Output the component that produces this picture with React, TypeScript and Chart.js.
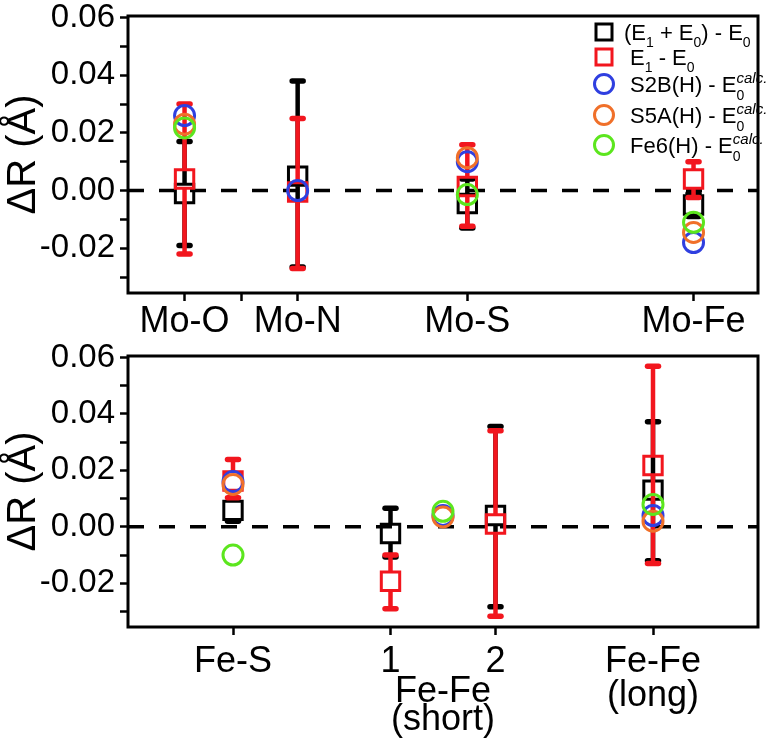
import React, { useEffect, useRef } from 'react';
import { Chart, registerables } from 'chart.js';

Chart.register(...registerables);

const FONT = "'Liberation Sans', Arial, Helvetica, sans-serif";

// ---------- shared y axis ----------
const Y_MIN = -0.0355;
const Y_MAX = 0.0605;
const yTickValues = [-0.03, -0.02, -0.01, 0, 0.01, 0.02, 0.03, 0.04, 0.05, 0.06];
const yTickLabels = ['', '-0.02', '', '0.00', '', '0.02', '', '0.04', '', '0.06'];

// ---------- top panel (Mo) ----------
const topX_MIN = 0.5;
const topX_MAX = 6.07;
const topCategories = ['Mo-O', 'Mo-N', 'Mo-S', 'Mo-Fe'];
const topPositions = [1, 2, 3.5, 5.5];
const topMinorTicks = [1.5];
const topBlack = [-0.001, 0.005, -0.0045, -0.005];
const topBlackLow = [-0.019, -0.0265, -0.013, -0.009];
const topBlackHigh = [0.017, 0.038, 0.004, -0.001];
const topRed = [0.004, -0.0005, 0.0014, 0.004];
const topRedLow = [-0.022, -0.027, -0.0124, -0.0024];
const topRedHigh = [0.03, 0.025, 0.0159, 0.01];
const topBlue = [0.026, 0.0, 0.01, -0.018];
const topOrange = [0.023, null, 0.0114, -0.0145];
const topGreen = [0.0217, null, -0.0014, -0.011];

// ---------- bottom panel (Fe) ----------
const botX_MIN = -2;
const botX_MAX = 10;
const botTickPositions = [0, 3, 5, 8];
const botTickLabels: (string | string[])[] = ['Fe-S', '1', '2', ['Fe-Fe', '(long)']];
const botGroupLabel = ['Fe-Fe', '(short)'];
const botGroupPosition = 4;
const botPositions = [0, 3, 4, 5, 8];
const botBlack = [0.0058, -0.0024, null, 0.004, 0.013];
const botBlackLow = [0.002, -0.0107, null, -0.0283, -0.012];
const botBlackHigh = [0.009, 0.0066, null, 0.0355, 0.0372];
const botRed = [0.0162, -0.0193, null, 0.001, 0.0217];
const botRedLow = [0.0103, -0.029, null, -0.0317, -0.013];
const botRedHigh = [0.0238, -0.01, null, 0.034, 0.0569];
const botBlue = [0.016, null, 0.004, null, 0.004];
const botOrange = [0.015, null, 0.0035, null, 0.002];
const botGreen = [-0.01, null, 0.0055, null, 0.0079];

// ---------- series styling ----------
const BLACK = '#000000';
const RED = '#f2161e';
const BLUE = '#2f3fe0';
const ORANGE = '#f0702a';
const GREEN = '#5ce61e';

type Part = { t: 'n' | 'sub' | 'ss'; s: string; sup?: string };
const legendEntries: { parts: Part[]; marker: 'rect' | 'circle'; color: string }[] = [
  { parts: [{ t: 'n', s: '(E' }, { t: 'sub', s: '1' }, { t: 'n', s: ' + E' }, { t: 'sub', s: '0' }, { t: 'n', s: ') - E' }, { t: 'sub', s: '0' }], marker: 'rect', color: BLACK },
  { parts: [{ t: 'n', s: ' E' }, { t: 'sub', s: '1' }, { t: 'n', s: ' - E' }, { t: 'sub', s: '0' }], marker: 'rect', color: RED },
  { parts: [{ t: 'n', s: ' S2B(H) - E' }, { t: 'ss', s: '0', sup: 'calc.' }], marker: 'circle', color: BLUE },
  { parts: [{ t: 'n', s: ' S5A(H) - E' }, { t: 'ss', s: '0', sup: 'calc.' }], marker: 'circle', color: ORANGE },
  { parts: [{ t: 'n', s: ' Fe6(H) - E' }, { t: 'ss', s: '0', sup: 'calc.' }], marker: 'circle', color: GREEN },
];
const legendRowCenters = [32, 57, 84, 115, 145];

function pts(xs: number[], ys: (number | null)[]) {
  return xs.map((x, i) => ({ x, y: ys[i] }));
}

function labelForY(v: number) {
  const i = yTickValues.findIndex((t) => Math.abs(t - v) < 1e-6);
  return i >= 0 ? yTickLabels[i] : '';
}

const errorBarPlugin = {
  id: 'errorBars',
  afterDatasetDraw(chart: any, args: any) {
    const ds: any = chart.data.datasets[args.index];
    if (!ds.errLow || !ds.errHigh) return;
    const { ctx, chartArea } = chart;
    const xs = chart.scales.x;
    const ys = chart.scales.y;
    const half = 10;
    ctx.save();
    ctx.beginPath();
    ctx.rect(chartArea.left, chartArea.top, chartArea.right - chartArea.left, chartArea.bottom - chartArea.top);
    ctx.clip();
    ctx.strokeStyle = ds.borderColor;
    ds.data.forEach((p: any, i: number) => {
      if (!p || p.y == null) return;
      const lo = ds.errLow[i];
      const hi = ds.errHigh[i];
      if (lo == null || hi == null) return;
      const px = xs.getPixelForValue(p.x);
      const py = ys.getPixelForValue(p.y);
      const pl = ys.getPixelForValue(lo);
      const ph = ys.getPixelForValue(hi);
      const segs: [number, number][] = [];
      if (ph < py - half) segs.push([py - half, ph]);
      if (pl > py + half) segs.push([py + half, pl]);
      segs.forEach(([a, b]) => {
        ctx.lineWidth = 4.5;
        ctx.lineCap = 'butt';
        ctx.beginPath();
        ctx.moveTo(px, a);
        ctx.lineTo(px, b);
        ctx.stroke();
        ctx.lineWidth = 5.5;
        ctx.lineCap = 'round';
        ctx.beginPath();
        ctx.moveTo(px - 5.5, b);
        ctx.lineTo(px + 5.5, b);
        ctx.stroke();
      });
    });
    ctx.restore();
  },
};

const framePlugin = {
  id: 'frame',
  afterDatasetsDraw(chart: any) {
    const { ctx, chartArea } = chart;
    ctx.save();
    ctx.strokeStyle = '#000';
    ctx.lineWidth = 3;
    ctx.strokeRect(chartArea.left, chartArea.top, chartArea.right - chartArea.left, chartArea.bottom - chartArea.top);
    ctx.restore();
  },
};

function drawRich(ctx: CanvasRenderingContext2D, x: number, base: number, parts: Part[]) {
  let cx = x;
  ctx.textBaseline = 'alphabetic';
  ctx.textAlign = 'left';
  for (const p of parts) {
    if (p.t === 'n') {
      ctx.font = `22px ${FONT}`;
      ctx.fillText(p.s, cx, base);
      cx += ctx.measureText(p.s).width;
    } else if (p.t === 'sub') {
      ctx.font = `14px ${FONT}`;
      ctx.fillText(p.s, cx, base + 7);
      cx += ctx.measureText(p.s).width;
    } else {
      ctx.font = `italic 15px ${FONT}`;
      const w1 = ctx.measureText(p.sup || '').width;
      ctx.fillText(p.sup || '', cx, base - 9);
      ctx.font = `14px ${FONT}`;
      const w2 = ctx.measureText(p.s).width;
      ctx.fillText(p.s, cx, base + 8);
      cx += Math.max(w1, w2);
    }
  }
}

const legendPlugin = {
  id: 'customLegend',
  afterDraw(chart: any) {
    const ctx: CanvasRenderingContext2D = chart.ctx;
    ctx.save();
    legendEntries.forEach((e, i) => {
      const cy = legendRowCenters[i];
      const mx = 604;
      ctx.strokeStyle = e.color;
      ctx.lineWidth = 3;
      ctx.beginPath();
      if (e.marker === 'rect') ctx.rect(mx - 8, cy - 8, 16, 16);
      else ctx.arc(mx, cy, 9.5, 0, Math.PI * 2);
      ctx.stroke();
      ctx.fillStyle = '#000';
      drawRich(ctx, 624, cy + 8, e.parts);
    });
    ctx.restore();
  },
};

const groupLabelPlugin = {
  id: 'groupLabel',
  afterDraw(chart: any) {
    const ctx: CanvasRenderingContext2D = chart.ctx;
    const x = chart.scales.x.getPixelForValue(botGroupPosition);
    ctx.save();
    ctx.fillStyle = '#000';
    ctx.font = `36px ${FONT}`;
    ctx.textAlign = 'center';
    ctx.textBaseline = 'middle';
    botGroupLabel.forEach((s, i) => ctx.fillText(s, x, 352 + i * 28));
    ctx.restore();
  },
};

function seriesDatasets(
  xs: number[],
  black: (number | null)[], blackLow: (number | null)[], blackHigh: (number | null)[],
  red: (number | null)[], redLow: (number | null)[], redHigh: (number | null)[],
  blue: (number | null)[], orange: (number | null)[], green: (number | null)[],
  xMin: number, xMax: number
) {
  const sq = { pointStyle: 'rect', pointRadius: 13, pointHoverRadius: 13, pointBorderWidth: 3, backgroundColor: 'rgba(0,0,0,0)', showLine: false };
  const ci = { pointStyle: 'circle', pointRadius: 10, pointHoverRadius: 10, pointBorderWidth: 3, backgroundColor: 'rgba(0,0,0,0)', showLine: false };
  return [
    { type: 'line', label: 'zero', data: [{ x: xMin, y: 0 }, { x: xMax, y: 0 }], borderColor: '#000', borderWidth: 3.5, borderDash: [16, 15], pointRadius: 0, order: 100 },
    { label: '(E1 + E0) - E0', data: pts(xs, black), borderColor: BLACK, errLow: blackLow, errHigh: blackHigh, order: 5, ...sq },
    { label: 'E1 - E0', data: pts(xs, red), borderColor: RED, errLow: redLow, errHigh: redHigh, order: 4, ...sq },
    { label: 'S2B(H) - E0calc.', data: pts(xs, blue), borderColor: BLUE, order: 3, ...ci },
    { label: 'S5A(H) - E0calc.', data: pts(xs, orange), borderColor: ORANGE, order: 2, ...ci },
    { label: 'Fe6(H) - E0calc.', data: pts(xs, green), borderColor: GREEN, order: 1, ...ci },
  ];
}

function yScale() {
  return {
    type: 'linear',
    min: Y_MIN,
    max: Y_MAX,
    afterBuildTicks: (s: any) => { s.ticks = yTickValues.map((v) => ({ value: v })); },
    afterFit: (s: any) => { s.width = 128; s.paddingTop = 0; s.paddingBottom = 0; },
    ticks: { callback: (v: any) => labelForY(Number(v)), font: { family: FONT, size: 33 }, color: '#000', padding: 5, autoSkip: false },
    grid: { drawOnChartArea: false, drawTicks: true, tickLength: 8, tickWidth: 2.5, tickColor: '#000', color: '#000' },
    border: { display: false },
    title: { display: true, text: 'ΔR (Å)', font: { family: FONT, size: 40 }, color: '#000', padding: { top: 0, bottom: 0 } },
  };
}

function xScale(min: number, max: number, ticks: number[], labelOf: (v: number) => any, height: number, padding: number) {
  return {
    type: 'linear',
    min,
    max,
    afterBuildTicks: (s: any) => { s.ticks = ticks.map((v) => ({ value: v })); },
    afterFit: (s: any) => { s.height = height; s.paddingLeft = 0; s.paddingRight = 0; },
    ticks: { callback: (v: any) => labelOf(Number(v)), font: { family: FONT, size: 36, lineHeight: 0.95 }, color: '#000', padding, autoSkip: false, maxRotation: 0, minRotation: 0 },
    grid: { drawOnChartArea: false, drawTicks: true, tickLength: 8, tickWidth: 2.5, tickColor: '#000', color: '#000' },
    border: { display: false },
  };
}

function baseOptions(paddingTop: number, xs: any) {
  return {
    responsive: false,
    animation: false,
    devicePixelRatio: 1,
    layout: { padding: { top: paddingTop, right: 5, left: 0, bottom: 0 } },
    plugins: { legend: { display: false }, tooltip: { enabled: false }, title: { display: false } },
    scales: { x: xs, y: yScale() },
  };
}

export default function App() {
  const topRef = useRef<HTMLCanvasElement>(null);
  const botRef = useRef<HTMLCanvasElement>(null);

  useEffect(() => {
    const topTicks = [...topPositions, ...topMinorTicks].sort((a, b) => a - b);
    const topLabel = (v: number) => {
      const i = topPositions.findIndex((p) => Math.abs(p - v) < 1e-6);
      return i >= 0 ? topCategories[i] : '';
    };
    const botLabel = (v: number) => {
      const i = botTickPositions.findIndex((p) => Math.abs(p - v) < 1e-6);
      return i >= 0 ? botTickLabels[i] : '';
    };

    const top = new Chart(topRef.current as HTMLCanvasElement, {
      type: 'scatter',
      data: {
        datasets: seriesDatasets(topPositions, topBlack, topBlackLow, topBlackHigh, topRed, topRedLow, topRedHigh, topBlue, topOrange, topGreen, topX_MIN, topX_MAX) as any,
      },
      options: baseOptions(15, xScale(topX_MIN, topX_MAX, topTicks, topLabel, 340 - 293, 4)) as any,
      plugins: [errorBarPlugin, framePlugin, legendPlugin],
    });

    const bot = new Chart(botRef.current as HTMLCanvasElement, {
      type: 'scatter',
      data: {
        datasets: seriesDatasets(botPositions, botBlack, botBlackLow, botBlackHigh, botRed, botRedLow, botRedHigh, botBlue, botOrange, botGreen, botX_MIN, botX_MAX) as any,
      },
      options: baseOptions(7, xScale(botX_MIN, botX_MAX, botTickPositions, botLabel, 408 - 287, 10)) as any,
      plugins: [errorBarPlugin, framePlugin, groupLabelPlugin],
    });

    return () => {
      top.destroy();
      bot.destroy();
    };
  }, []);

  return (
    <div style={{ position: 'absolute', left: 0, top: 0, width: 774, height: 748, background: '#fff' }}>
      <canvas ref={topRef} width={774} height={340} style={{ position: 'absolute', left: 0, top: 0 }} />
      <canvas ref={botRef} width={774} height={408} style={{ position: 'absolute', left: 0, top: 340 }} />
    </div>
  );
}
